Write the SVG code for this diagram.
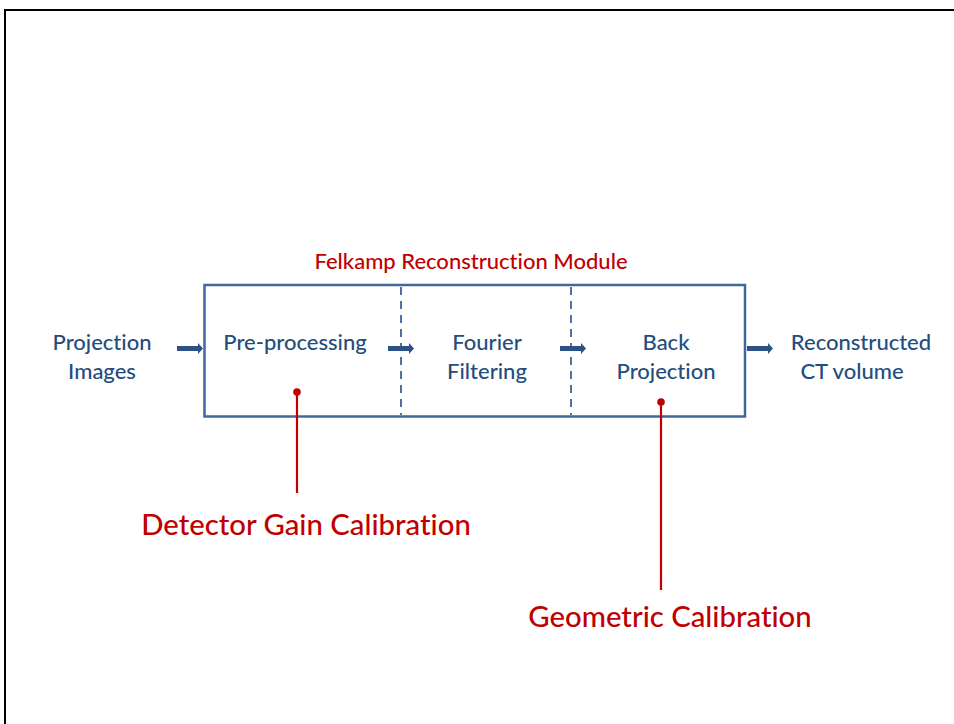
<svg xmlns="http://www.w3.org/2000/svg" width="954" height="724" viewBox="0 0 954 724">
<defs>
<path id="ar" d="M0,-2.5 H21 V-5.5 L26,0 L21,5.5 V2.5 H0 Z" fill="#2b5282"/>
<style>
.t{font-family:Lato,"Liberation Sans",sans-serif;font-size:22px;fill:#244d7e;text-anchor:middle;font-variant-ligatures:none;font-weight:500}
.r{font-family:Lato,"Liberation Sans",sans-serif;fill:#c00000;text-anchor:middle;font-variant-ligatures:none;font-weight:500}
.dash{stroke:#3e6393;stroke-width:1.8;stroke-dasharray:8,6}
.pin{stroke:#c00000;stroke-width:2.2}
</style>
</defs>
<rect width="954" height="724" fill="#fff"/>
<rect x="5" y="10" width="960" height="730" fill="none" stroke="#000" stroke-width="2"/>
<g id="module">
<rect x="204.5" y="285" width="540.5" height="131.5" fill="none" stroke="#41689a" stroke-width="2.5"/>
<text class="r" x="471" y="269" font-size="22">Felkamp Reconstruction Module</text>
</g>
<g id="preprocessing"><text class="t" x="295" y="350">Pre-processing</text></g>
<g id="fourier"><text class="t" x="487" y="350">Fourier</text><text class="t" x="487" y="379">Filtering</text></g>
<g id="backprojection"><text class="t" x="666" y="350">Back</text><text class="t" x="666" y="379">Projection</text></g>
<g id="input"><text class="t" x="102" y="350">Projection</text><text class="t" x="102" y="379">Images</text></g>
<g id="output"><text class="t" x="861" y="350">Reconstructed</text><text class="t" x="852" y="379">CT volume</text></g>
<g id="detector"><text class="r" x="306" y="535" font-size="29.3">Detector Gain Calibration</text></g>
<g id="geometric"><text class="r" x="670" y="627" font-size="29.3">Geometric Calibration</text></g>
<g id="connectors">
<line class="dash" x1="401" y1="287" x2="401" y2="415"/>
<line class="dash" x1="571" y1="287" x2="571" y2="415"/>
<use href="#ar" x="177" y="348.5"/>
<use href="#ar" x="388" y="348.5"/>
<use href="#ar" x="560" y="348.5"/>
<use href="#ar" x="747" y="348.5"/>
<line class="pin" x1="297" y1="392" x2="297" y2="493"/>
<circle cx="297" cy="392" r="3.8" fill="#c00000"/>
<line class="pin" x1="661" y1="402" x2="661" y2="590"/>
<circle cx="661" cy="402" r="3.8" fill="#c00000"/>
</g>
</svg>
